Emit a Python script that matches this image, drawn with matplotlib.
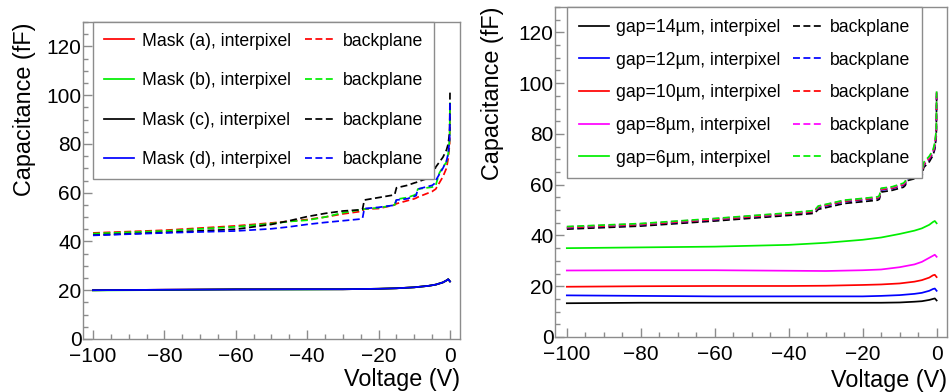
import matplotlib
matplotlib.use("Agg")
import matplotlib.pyplot as plt
from matplotlib.ticker import MultipleLocator

plt.rcParams['font.family'] = ['Liberation Sans', 'DejaVu Sans']

# ---------------- Left panel data ----------------
V_int_L = [-100, -80, -60, -40, -30, -20, -15, -10, -6, -4, -2, -1, -0.5, 0]
int_a = [20.0, 20.2, 20.3, 20.4, 20.4, 20.6, 20.8, 21.2, 21.8, 22.3, 23.2, 24.0, 24.5, 23.6]
int_b = [19.9, 20.1, 20.3, 20.3, 20.4, 20.6, 20.8, 21.2, 21.8, 22.3, 23.2, 24.0, 24.5, 23.6]
int_c = [20.0, 20.2, 20.4, 20.4, 20.4, 20.6, 20.8, 21.2, 21.8, 22.3, 23.2, 24.0, 24.5, 23.6]
int_d = [20.0, 20.2, 20.3, 20.4, 20.4, 20.6, 20.8, 21.2, 21.8, 22.3, 23.2, 24.0, 24.5, 23.6]

V_bp_L = [-100, -80, -60, -50, -45, -40, -35, -30, -25, -24.5, -24, -20, -16, -15.5,
          -15, -12, -10, -9.5, -9, -5, -4.5, -4, -3, -2, -1, -0.5, -0.1, 0]
bp_a = [43.5, 44.6, 46.4, 47.6, 48.3, 49.0, 50.0, 51.3, 52.3, 52.5, 53.3, 53.5, 54.8, 55.0,
        55.5, 56.7, 57.5, 57.8, 58.2, 60.5, 61.0, 61.5, 64.0, 66.5, 70.0, 74.0, 80.0, 96.0]
bp_b = [43.2, 44.3, 46.0, 47.3, 48.2, 48.7, 50.0, 51.8, 53.0, 53.1, 53.3, 53.8, 54.8, 55.0,
        57.3, 58.0, 59.0, 59.5, 61.5, 62.3, 62.6, 63.0, 68.0, 70.5, 72.5, 76.0, 82.0, 97.0]
bp_c = [42.6, 43.7, 45.0, 47.0, 48.5, 50.2, 51.5, 52.5, 53.0, 53.2, 57.0, 58.0, 59.0, 59.2,
        62.0, 63.0, 64.0, 64.2, 64.5, 66.5, 68.5, 70.5, 72.5, 74.5, 77.5, 80.0, 85.0, 102.0]
bp_d = [42.5, 43.5, 44.3, 45.2, 46.0, 47.0, 47.8, 48.5, 49.2, 49.5, 53.5, 54.0, 54.8, 55.0,
        57.0, 57.5, 58.5, 58.8, 61.5, 63.0, 63.5, 65.0, 67.5, 70.0, 73.0, 76.0, 82.0, 97.0]

masks = ['Mask (a)', 'Mask (b)', 'Mask (c)', 'Mask (d)']
colors_L = ['#ff0000', '#00ee00', '#000000', '#0000ff']

# ---------------- Right panel data ----------------
V_int_R = [-100, -80, -60, -40, -30, -20, -15, -10, -6, -4, -2, -1, -0.5, 0]
g14_int = [13.3, 13.5, 13.5, 13.5, 13.5, 13.5, 13.5, 13.6, 13.9, 14.1, 14.6, 15.0, 15.2, 14.4]
g12_int = [16.4, 16.2, 16.0, 16.0, 16.0, 16.0, 16.2, 16.5, 17.0, 17.4, 18.2, 18.9, 19.1, 18.2]
g10_int = [19.8, 20.0, 20.1, 20.1, 20.2, 20.5, 20.7, 21.1, 21.8, 22.4, 23.4, 24.3, 24.5, 23.6]
g8_int = [26.2, 26.3, 26.3, 26.1, 26.0, 26.3, 26.6, 27.5, 28.6, 29.6, 31.2, 32.0, 32.4, 31.6]
g6_int = [35.0, 35.3, 35.6, 36.3, 37.1, 38.3, 39.2, 40.6, 41.9, 42.8, 44.2, 45.3, 45.7, 44.8]

V_bp_R = [-100, -80, -60, -40, -34, -33, -32, -28, -25, -20, -16, -15.5, -15, -12, -9,
          -8.5, -8, -5, -4, -3.5, -2, -1, -0.5, -0.1, 0]
g14_bp = [42.5, 43.7, 45.7, 47.9, 48.6, 48.8, 50.3, 51.6, 52.6, 53.3, 53.9, 54.3, 57.1, 57.8, 59.0,
          59.7, 61.6, 62.7, 63.1, 66.8, 69.0, 71.5, 74.0, 79.0, 95.0]
g12_bp = [43.0, 44.2, 46.2, 48.4, 49.2, 49.4, 51.0, 52.3, 53.3, 54.0, 54.6, 55.0, 57.9, 58.5, 59.8,
          60.5, 62.4, 63.5, 63.9, 67.7, 70.0, 72.4, 75.0, 80.0, 96.0]
g10_bp = [43.1, 44.3, 46.3, 48.5, 49.3, 49.5, 51.2, 52.5, 53.5, 54.2, 54.8, 55.2, 58.1, 58.7, 60.0,
          60.7, 62.6, 63.7, 64.1, 67.9, 70.3, 72.7, 75.5, 80.5, 96.5]
g8_bp = [43.4, 44.6, 46.6, 48.8, 49.6, 49.8, 51.5, 52.8, 53.8, 54.5, 55.1, 55.5, 58.4, 59.0, 60.3,
         61.0, 62.9, 64.0, 64.4, 68.3, 70.8, 73.2, 76.0, 81.0, 97.5]
g6_bp = [43.5, 44.7, 46.7, 48.9, 49.7, 49.9, 51.6, 52.9, 53.9, 54.6, 55.2, 55.6, 58.6, 59.2, 60.6,
         61.3, 63.2, 64.3, 64.7, 68.8, 71.2, 73.6, 76.5, 81.5, 97.0]

gaps = ['gap=14\u00b5m', 'gap=12\u00b5m', 'gap=10\u00b5m', 'gap=8\u00b5m', 'gap=6\u00b5m']
colors_R = ['#000000', '#0000ff', '#ff0000', '#ff00ff', '#00ee00']

xticks = [-100, -80, -60, -40, -20, 0]
yticks = [0, 20, 40, 60, 80, 100, 120]

# ---------------- Figure ----------------
W, H = 949, 392
fig = plt.figure(figsize=(W / 100, H / 100), dpi=100)

def px_axes(l, t, r, b):
    return fig.add_axes([l / W, 1 - b / H, (r - l) / W, (b - t) / H])

axL = px_axes(83, 22, 460, 339)
axR = px_axes(555, 7, 947, 337)

LW = 1.25
DASH = (0, (4, 2))
FRAME = '#8c8c8c'

def style(ax, xlim):
    ax.set_xlim(*xlim)
    ax.set_ylim(0, 130)
    ax.set_xticks(xticks)
    ax.set_yticks(yticks)
    ax.xaxis.set_minor_locator(MultipleLocator(5))
    ax.yaxis.set_minor_locator(MultipleLocator(5))
    ax.tick_params(which='both', direction='in', top=False, right=False,
                   color=FRAME, width=1, labelsize=15)
    ax.tick_params(which='major', length=6.5)
    ax.tick_params(which='minor', length=3.3)
    ax.tick_params(axis='y', pad=1)
    ax.tick_params(axis='x', pad=5.5)
    for s in ax.spines.values():
        s.set_color(FRAME)
        s.set_linewidth(1)
    ax.set_xlabel('Voltage (V)', fontsize=16.8, loc='right')
    ax.set_ylabel('Capacitance (fF)', fontsize=16.8, loc='top')

# Left
hi, hb = [], []
ints_L = [int_a, int_b, int_c, int_d]
bps_L = [bp_a, bp_b, bp_c, bp_d]
for name, c, yi, yb in zip(masks, colors_L, ints_L, bps_L):
    l1, = axL.plot(V_int_L, yi, color=c, lw=LW, label=name + ', interpixel')
    l2, = axL.plot(V_bp_L, yb, color=c, lw=LW, linestyle=DASH, label='backplane')
    hi.append(l1)
    hb.append(l2)
style(axL, (-102.8, 2.8))
axL.yaxis.set_label_coords(-0.124, 1.0)
axL.xaxis.set_label_coords(1.0, -0.09)
legL = axL.legend(hi + hb, [h.get_label() for h in hi + hb], ncol=2, mode='expand',
                  loc='upper left', bbox_to_anchor=(0.027, 0.0, 0.904, 1.0),
                  borderaxespad=0, fontsize=12.7, handlelength=1.7, handletextpad=0.45,
                  labelspacing=1.28, borderpad=0.6, fancybox=False, framealpha=1,
                  edgecolor=FRAME)
legL.get_frame().set_linewidth(1)

# Right
hi, hb = [], []
ints_R = [g14_int, g12_int, g10_int, g8_int, g6_int]
bps_R = [g14_bp, g12_bp, g10_bp, g8_bp, g6_bp]
for name, c, yi, yb in zip(gaps, colors_R, ints_R, bps_R):
    l1, = axR.plot(V_int_R, yi, color=c, lw=LW, label=name + ', interpixel')
    l2, = axR.plot(V_bp_R, yb, color=c, lw=LW, linestyle=DASH, label='backplane')
    hi.append(l1)
    hb.append(l2)
style(axR, (-103.2, 2.8))
axR.yaxis.set_label_coords(-0.130, 1.0)
axR.xaxis.set_label_coords(1.0, -0.098)
legR = axR.legend(hi + hb, [h.get_label() for h in hi + hb], ncol=2, mode='expand',
                  loc='upper left', bbox_to_anchor=(0.031, 0.0, 0.905, 1.0),
                  borderaxespad=0, fontsize=12.7, handlelength=1.7, handletextpad=0.4,
                  labelspacing=0.89, borderpad=0.67, fancybox=False, framealpha=1,
                  edgecolor=FRAME)
legR.get_frame().set_linewidth(1)

fig.savefig('out.png', dpi=100)
